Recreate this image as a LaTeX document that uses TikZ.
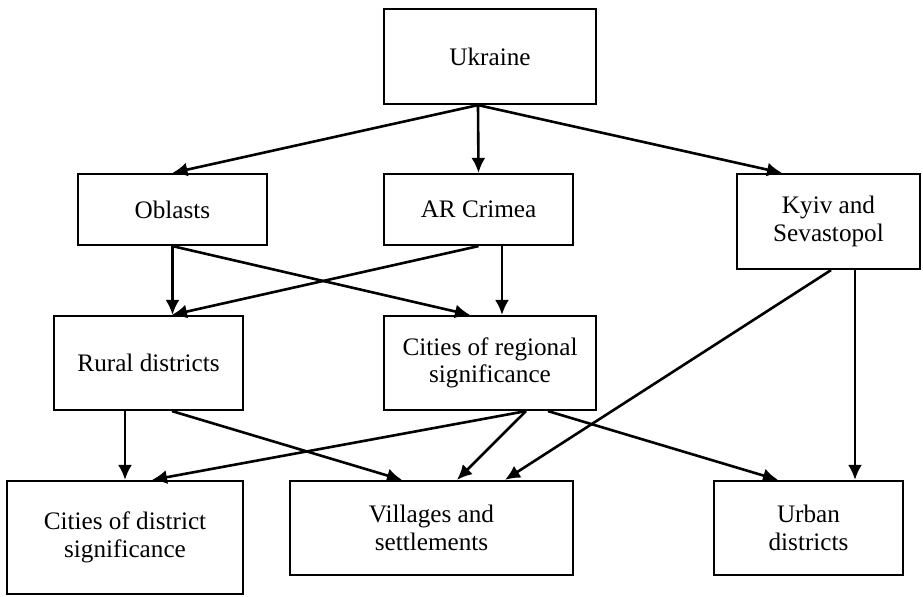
\documentclass[tikz,border=0pt]{standalone}
\usepackage{fontspec}
\setmainfont{Liberation Serif}
\usepackage{tikz}
\usetikzlibrary{arrows.meta,positioning}
\tikzset{
 unit/.style
  = {rectangle, draw, line width=1.1pt, inner sep=0pt, align=center,
     font=\fontsize{12.6pt}{13.8pt}\selectfont},
 l/.style
  = {draw, line width=1.3pt, -{Latex[length=7.5pt,width=7pt]}},
}

\begin{document}
\begin{tikzpicture}[x=0.5pt, y=-0.5pt]

\useasboundingbox (0,0) rectangle (923,596);

% Top level
\node[unit, minimum width=106pt, minimum height=47.5pt] (ukr) at (490,56.5) {Ukraine};

% Regions
\node[unit, minimum width=94.5pt, minimum height=35.5pt] (obl) at (172.5,209.5) {Oblasts};
\node[unit, minimum width=94.5pt, minimum height=35.5pt] (arc) at (478.5,209.5) {AR Crimea};
\node[unit, minimum width=91.5pt, minimum height=47.5pt] (kyiv) at (828.5,221.5) {Kyiv and\\Sevastopol};

% Districts
\node[unit, minimum width=94.5pt, minimum height=47pt] (rur) at (148.5,363) {Rural districts};
\node[unit, minimum width=106pt, minimum height=47pt] (reg) at (490,363) {Cities of regional\\significance};

% Bottom level
\node[unit, minimum width=118pt, minimum height=56.5pt] (dst) at (125,537.5) {Cities of district\\significance};
\node[unit, minimum width=141.5pt, minimum height=47pt] (vil) at (431.5,528) {Villages and\\settlements};
\node[unit, minimum width=94.5pt, minimum height=47pt] (urb) at (808.5,528) {Urban\\districts};

% Ukraine
\path[l] ([xshift=-6pt]ukr.south) -- (obl.north);
\path[l] ([xshift=-6pt]ukr.south) -- (arc.north);
\path[l] ([xshift=-6pt]ukr.south) -- ([xshift=-23.25pt]kyiv.north);

% Oblasts and AR Crimea
\path[l] (obl.south) -- (obl.south |- rur.north);
\path[l] (obl.south) -- ([xshift=-10pt]reg.north);
\path[l] (arc.south) -- ([xshift=11.75pt]rur.north);
\path[l] ([xshift=11.75pt]arc.south) -- ([xshift=11.75pt]arc.south |- reg.north);

% Rural districts
\path[l] ([xshift=-11.75pt]rur.south) -- (dst.north);
\path[l] ([xshift=11.75pt]rur.south) -- ([xshift=-14.75pt]vil.north);

% Cities of regional significance
\path[l] ([xshift=18pt]reg.south) -- ([xshift=13.5pt]dst.north);
\path[l] ([xshift=18pt]reg.south) -- ([xshift=12.75pt]vil.north);
\path[l] ([xshift=29pt]reg.south) -- ([xshift=-15.25pt]urb.north);

% Kyiv and Sevastopol
\path[l] ([xshift=1.25pt]kyiv.south) -- ([xshift=36.75pt]vil.north);
\path[l] ([xshift=13.25pt]kyiv.south) -- ([xshift=13.25pt]kyiv.south |- urb.north);

\end{tikzpicture}
\end{document}
